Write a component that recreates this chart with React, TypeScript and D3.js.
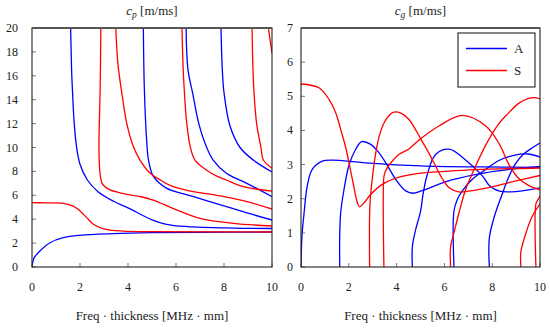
import React from 'react';
import * as d3 from 'd3';

type P = [number, number];

const xTicks = [0, 2, 4, 6, 8, 10];
const cpTicks = [0, 2, 4, 6, 8, 10, 12, 14, 16, 18, 20];
const cgTicks = [0, 1, 2, 3, 4, 5, 6, 7];
const legendLabels = ['A', 'S'];
const xLabel = 'Freq · thickness [MHz · mm]';

// Phase velocity, antisymmetric modes
const cpA0: P[] = [[0, 0], [0.03, 0.4], [0.1, 0.8], [0.33, 1.34], [0.75, 2.03], [1.3, 2.45], [2, 2.65], [3.4, 2.79], [5, 2.87], [7, 2.91], [10, 2.93]];
const cpA1: P[] = [[1.61, 20], [1.65, 16.5], [1.69, 14.6], [1.76, 12], [1.86, 10.0], [2.0, 8.6], [2.3, 7.3], [2.75, 6.3], [3.4, 5.5], [4.0, 4.95], [5.0, 3.95], [5.6, 3.57], [6.5, 3.38], [8.4, 3.26], [10, 3.22]];
const cpA2: P[] = [[4.64, 20], [4.68, 15], [4.78, 10.5], [4.85, 9.0], [5.05, 7.6], [5.6, 6.6], [6.7, 5.9], [8.1, 5.05], [9, 4.5], [10, 3.93]];
const cpA3: P[] = [[6.42, 20], [6.5, 16.5], [6.69, 14.6], [6.95, 12], [7.28, 10], [7.55, 8.95], [8.1, 7.84], [8.95, 7.0], [10, 5.88]];
const cpA4: P[] = [[7.875, 20], [7.93, 16.5], [8.0, 14.6], [8.25, 11.8], [8.67, 10], [9.22, 8.95], [10, 7.95]];
// Phase velocity, symmetric modes
const cpS0: P[] = [[0, 5.38], [0.5, 5.37], [1.3, 5.33], [1.72, 5.1], [2.0, 4.69], [2.28, 4.13], [2.56, 3.57], [2.97, 3.2], [3.8, 3.01], [5, 2.96], [10, 2.93]];
const cpS1: P[] = [[2.87, 20], [2.84, 15], [2.79, 10], [2.81, 8.5], [2.85, 7.6], [2.92, 7.0], [3.05, 6.7], [3.25, 6.45], [3.9, 6.1], [4.5, 5.9], [5.05, 5.6], [6.0, 4.8], [7.0, 4.07], [8.4, 3.65], [10, 3.43]];
const cpS2: P[] = [[3.49, 20], [3.58, 17], [3.74, 14.6], [3.95, 12], [4.22, 10.1], [4.5, 8.95], [4.95, 7.8], [5.33, 7.3], [5.75, 6.83], [6.5, 6.4], [7.7, 6.0], [8.8, 5.55], [10, 4.85]];
const cpS3: P[] = [[6.25, 20], [6.29, 17], [6.35, 14.6], [6.45, 12], [6.6, 10], [6.79, 8.95], [7.28, 8.1], [7.7, 7.6], [8.1, 7.28], [8.67, 6.8], [9.1, 6.6], [10, 6.35]];
const cpS4: P[] = [[9.17, 20], [9.2, 17], [9.25, 14.6], [9.36, 12], [9.54, 10], [9.64, 8.95], [10, 8.26]];
const cpS5: P[] = [[9.85, 20], [9.92, 19], [10, 17.9]];

// Group velocity, antisymmetric modes
const cgA0: P[] = [[0, 0], [0.04, 0.9], [0.13, 1.59], [0.26, 2.37], [0.47, 2.86], [0.89, 3.1], [1.31, 3.13], [2.7, 3.05], [5, 2.96], [7.5, 2.93], [10, 2.92]];
const cgA1: P[] = [[1.62, 0], [1.62, 0.9], [1.66, 1.59], [1.8, 2.27], [2.0, 2.96], [2.29, 3.45], [2.54, 3.67], [2.9, 3.6], [3.2, 3.4], [3.54, 3.06], [3.96, 2.57], [4.38, 2.23], [4.7, 2.16], [5.0, 2.22], [6.3, 2.55], [7.7, 2.76], [9, 2.88], [10, 2.95]];
const cgA2: P[] = [[4.66, 0], [4.66, 0.6], [4.8, 1.1], [5.0, 1.62], [5.1, 2.1], [5.28, 2.7], [5.64, 3.3], [6.2, 3.45], [6.86, 3.15], [7.59, 2.67], [7.9, 2.37], [8.3, 2.22], [8.8, 2.2], [10, 2.32]];
const cgA3: P[] = [[6.4, 0], [6.4, 1.64], [6.54, 1.98], [6.75, 2.23], [7.17, 2.57], [7.73, 2.86], [8.28, 3.12], [8.9, 3.27], [9.5, 3.31], [10, 3.22]];
const cgA4: P[] = [[7.88, 0], [7.88, 0.85], [8.1, 1.5], [8.4, 2.1], [8.67, 2.6], [8.95, 3.0], [9.3, 3.3], [9.7, 3.5], [10, 3.63]];
// Group velocity, symmetric modes
const cgS0: P[] = [[0, 5.36], [0.75, 5.25], [1.17, 4.91], [1.45, 4.52], [1.66, 4.03], [1.87, 3.5], [2.15, 2.57], [2.36, 1.88], [2.45, 1.76], [2.64, 1.88], [2.92, 2.13], [3.4, 2.42], [4.1, 2.63], [5, 2.75], [6, 2.8], [7.3, 2.85], [10, 2.9]];
const cgS1: P[] = [[2.87, 0], [2.87, 1.5], [2.9, 2.0], [2.98, 2.57], [3.13, 3.35], [3.3, 3.9], [3.54, 4.3], [3.85, 4.53], [4.2, 4.5], [4.52, 4.32], [5.02, 3.74], [5.3, 3.4], [5.6, 3.0], [5.9, 2.6], [6.2, 2.32], [6.6, 2.2], [7.0, 2.22], [8, 2.35], [9, 2.52], [10, 2.68]];
const cgS2: P[] = [[3.47, 0], [3.47, 2.65], [3.52, 2.78], [3.68, 2.98], [4.1, 3.3], [4.5, 3.45], [4.94, 3.72], [5.77, 4.13], [6.75, 4.44], [7.73, 4.13], [8.3, 3.6], [8.7, 3.0], [9.1, 2.6], [9.5, 2.4], [10, 2.26]];
const cgS3: P[] = [[6.26, 0], [6.26, 0.6], [6.4, 1.0], [6.61, 1.59], [6.89, 2.27], [7.31, 2.96], [7.75, 3.6], [8.28, 4.2], [8.67, 4.5], [9.12, 4.8], [9.5, 4.93], [9.8, 4.96], [10, 4.92]];
const cgS4: P[] = [[9.2, 0], [9.2, 0.45], [9.37, 0.9], [9.65, 1.45], [10, 1.85]];
const cgS5: P[] = [[9.83, 0], [9.83, 1.85], [9.9, 1.95], [10, 2.08]];

const cpAModes = [cpA0, cpA1, cpA2, cpA3, cpA4];
const cpSModes = [cpS0, cpS1, cpS2, cpS3, cpS4, cpS5];
const cgAModes = [cgA0, cgA1, cgA2, cgA3, cgA4];
const cgSModes = [cgS0, cgS1, cgS2, cgS3, cgS4, cgS5];

const BLUE = '#0000ff';
const RED = '#ff0000';
const FONT = '"Liberation Serif", "DejaVu Serif", serif';

const TOP = 28;
const BOTTOM = 267;

function Panel(props: {
  id: string; x0: number; x1: number; yMax: number; yTicks: number[];
  aModes: P[][]; sModes: P[][]; title: string; sub: string; labelEnd: number; legend?: boolean;
}) {
  const { id, x0, x1, yMax, yTicks, aModes, sModes, title, sub, labelEnd, legend } = props;
  const x = d3.scaleLinear().domain([0, 10]).range([x0, x1]);
  const y = d3.scaleLinear().domain([0, yMax]).range([BOTTOM, TOP]);
  const line = d3.line<P>().x(d => x(d[0])).y(d => y(d[1])).curve(d3.curveCatmullRom.alpha(0.5));
  const cx = (x0 + x1) / 2;
  return (
    <g>
      <defs>
        <clipPath id={id}>
          <rect x={x0} y={TOP} width={x1 - x0} height={BOTTOM - TOP} />
        </clipPath>
      </defs>
      <g clipPath={`url(#${id})`} fill="none" strokeWidth={1.3}>
        {aModes.map((m, i) => <path key={'a' + i} d={line(m) || ''} stroke={BLUE} />)}
        {sModes.map((m, i) => <path key={'s' + i} d={line(m) || ''} stroke={RED} />)}
      </g>
      {yTicks.map(t => (
        <g key={'y' + t}>
          <line x1={x0} x2={x0 + 4} y1={y(t)} y2={y(t)} stroke="#555" strokeWidth={0.8} />
          <text x={labelEnd} y={y(t) + 4} textAnchor="end" fontSize={12} fontFamily={FONT} fill="#222">{t}</text>
        </g>
      ))}
      {xTicks.map(t => (
        <g key={'x' + t}>
          <line x1={x(t)} x2={x(t)} y1={BOTTOM} y2={BOTTOM - 4} stroke="#555" strokeWidth={0.8} />
          <text x={x(t)} y={291} textAnchor="middle" fontSize={12} fontFamily={FONT} fill="#222">{t}</text>
        </g>
      ))}
      <rect x={x0} y={TOP} width={x1 - x0} height={BOTTOM - TOP} fill="none" stroke="#222" strokeWidth={1.1} />
      <line x1={x0} x2={x1} y1={TOP} y2={TOP} stroke="#555" strokeWidth={2} />
      <text x={cx} y={15} textAnchor="middle" fontSize={13} fontFamily={FONT} fill="#222">
        <tspan fontStyle="italic">c</tspan>
        <tspan fontStyle="italic" fontSize={9.5} dy={3}>{sub}</tspan>
        <tspan dy={-3}>{' ' + title}</tspan>
      </text>
      <text x={cx} y={320} textAnchor="middle" fontSize={13} fontFamily={FONT} fill="#222">{xLabel}</text>
      {legend && (
        <g>
          <rect x={458} y={33} width={77} height={54} fill="#fff" stroke="#222" strokeWidth={1.1} />
          {legendLabels.map((lab, i) => (
            <g key={lab}>
              <line x1={466} x2={507} y1={48.5 + i * 22} y2={48.5 + i * 22} stroke={i === 0 ? BLUE : RED} strokeWidth={1.3} />
              <text x={514} y={53 + i * 22} fontSize={13} fontFamily={FONT} fill="#222">{lab}</text>
            </g>
          ))}
        </g>
      )}
    </g>
  );
}

export default function App() {
  return (
    <svg width={550} height={329} viewBox="0 0 550 329" style={{ position: 'absolute', left: 0, top: 0, background: '#fff' }}>
      <Panel id="clipL" x0={32} x1={272} yMax={20} yTicks={cpTicks} aModes={cpAModes} sModes={cpSModes} title="[m/ms]" sub="p" labelEnd={18} />
      <Panel id="clipR" x0={301} x1={540} yMax={7} yTicks={cgTicks} aModes={cgAModes} sModes={cgSModes} title="[m/ms]" sub="g" labelEnd={293} legend />
    </svg>
  );
}
